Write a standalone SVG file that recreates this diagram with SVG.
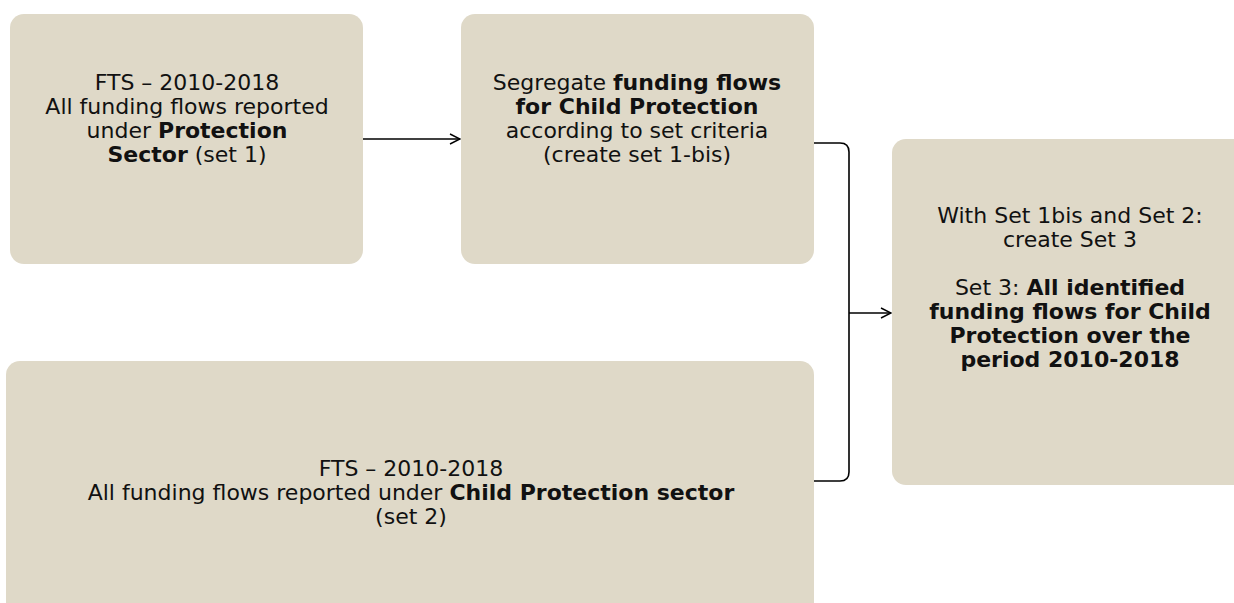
<svg xmlns="http://www.w3.org/2000/svg" width="1234" height="603" viewBox="0 0 1234 603">
<defs>
<style>
.box{fill:#DFD9C8;}
.t{font-family:"DejaVu Sans","Liberation Sans",sans-serif;font-size:22px;fill:#111;text-anchor:middle;}
.b{font-weight:bold;}
.c{fill:none;stroke:#000;stroke-width:1.6;}
</style>
<marker id="arr" viewBox="0 0 12 12" refX="11" refY="6" markerWidth="12" markerHeight="12" markerUnits="userSpaceOnUse" orient="auto">
<path d="M1,1 L11,6 L1,11" fill="none" stroke="#000" stroke-width="1.4"/>
</marker>
</defs>
<rect width="1234" height="603" fill="#fff"/>
<g id="n1">
<rect class="box" x="10" y="14" width="353" height="250" rx="14"/>
<text class="t" x="187" y="90">FTS – 2010-2018</text>
<text class="t" x="187" y="114">All funding flows reported</text>
<text class="t" x="187" y="138">under <tspan class="b">Protection</tspan></text>
<text class="t" x="187" y="162"><tspan class="b">Sector</tspan> (set 1)</text>
</g>
<g id="n2">
<rect class="box" x="461" y="14" width="353" height="250" rx="14"/>
<text class="t" x="637" y="90">Segregate <tspan class="b">funding flows</tspan></text>
<text class="t b" x="637" y="114">for Child Protection</text>
<text class="t" x="637" y="138">according to set criteria</text>
<text class="t" x="637" y="162">(create set 1-bis)</text>
</g>
<g id="n3">
<rect class="box" x="892" y="139" width="360" height="346" rx="14"/>
<text class="t" x="1070" y="223">With Set 1bis and Set 2:</text>
<text class="t" x="1070" y="247">create Set 3</text>
<text class="t" x="1070" y="295">Set 3: <tspan class="b">All identified</tspan></text>
<text class="t b" x="1070" y="319">funding flows for Child</text>
<text class="t b" x="1070" y="343">Protection over the</text>
<text class="t b" x="1070" y="367">period 2010-2018</text>
</g>
<g id="n4">
<rect class="box" x="6" y="361" width="808" height="260" rx="14"/>
<text class="t" x="411" y="476">FTS – 2010-2018</text>
<text class="t" x="411" y="500">All funding flows reported under <tspan class="b">Child Protection sector</tspan></text>
<text class="t" x="411" y="524">(set 2)</text>
</g>
<g id="connectors">
<line class="c" x1="363" y1="139" x2="460" y2="139" marker-end="url(#arr)"/>
<path class="c" d="M814,143 H840 Q849,143 849,152 V472 Q849,481 840,481 H814"/>
<line class="c" x1="849" y1="313" x2="891" y2="313" marker-end="url(#arr)"/>
</g>
</svg>
